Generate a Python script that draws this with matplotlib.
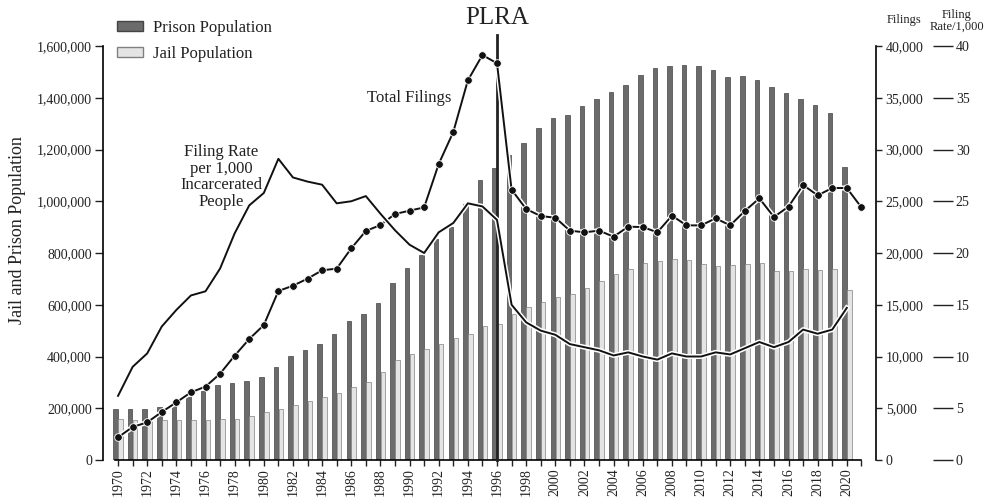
import matplotlib
matplotlib.use("Agg")
import matplotlib.pyplot as plt
import matplotlib.patheffects as pe
from matplotlib.patches import Patch
import numpy as np

plt.rcParams['font.family'] = ['Liberation Serif', 'DejaVu Serif']

# population data, 1970-2020
years = list(range(1970, 2021))
prison = [198, 198, 196, 204, 211, 243, 267, 290, 296, 304,
          320, 359, 402, 425, 448, 488, 537, 563, 607, 684,
          743, 791, 853, 902, 990, 1082, 1130, 1179, 1224, 1284,
          1320, 1332, 1369, 1396, 1423, 1449, 1489, 1514, 1524, 1525,
          1523, 1506, 1480, 1485, 1470, 1440, 1417, 1395, 1372, 1340,
          1132]
jail = [158, 155, 152, 155, 156, 156, 156, 157, 158, 171,
        185, 198, 213, 228, 242, 258, 281, 303, 340, 386,
        410, 428, 450, 473, 488, 518, 526, 564, 593, 612,
        629, 642, 665, 693, 719, 737, 761, 768, 778, 773,
        759, 749, 752, 759, 761, 732, 732, 739, 736, 739,
        657]
prison = [v * 1000 for v in prison]
jail = [v * 1000 for v in jail]

# filings, 1970-2021
filing_years = list(range(1970, 2022))
filings = [2190, 3190, 3640, 4640, 5570, 6540, 7090, 8340, 10080, 11690,
           13040, 16330, 16840, 17520, 18330, 18490, 20450, 22130, 22700, 23770,
           24090, 24410, 28600, 31690, 36680, 39130, 38330, 26120, 24250, 23570,
           23410, 22160, 22000, 22160, 21580, 22540, 22510, 22000, 23610, 22670,
           22670, 23350, 22670, 24060, 25280, 23480, 24480, 26570, 25570, 26280,
           26280, 24410]

# filing rate per 1,000 incarcerated, 1970-2020
rate = [6.2, 9.0, 10.3, 12.9, 14.5, 15.9, 16.3, 18.5, 21.9, 24.6,
        25.8, 29.1, 27.3, 26.9, 26.6, 24.8, 25.0, 25.5, 23.8, 22.2,
        20.8, 20.0, 22.0, 22.9, 24.8, 24.5, 23.2, 15.0, 13.3, 12.5,
        12.1, 11.2, 10.9, 10.6, 10.1, 10.4, 10.0, 9.7, 10.3, 10.0,
        10.0, 10.4, 10.2, 10.8, 11.4, 10.9, 11.4, 12.6, 12.2, 12.6,
        14.7]

txt = '#222222'
fig = plt.figure(figsize=(9.87, 4.98), dpi=100)
ax = fig.add_axes([0.1044, 0.0763, 0.7831, 0.8313])

x = np.array(years)
w = 0.31
ax.bar(x - 0.17, prison, width=w, color='#6b6b6b', edgecolor='#444444', linewidth=0.5, zorder=2)
ax.bar(x + 0.17, jail, width=w, color='#e4e4e4', edgecolor='#808080', linewidth=0.5, zorder=2)

ax.set_xlim(1968.97, 2022.0)
ax.set_ylim(0, 1600000)
yt = list(range(0, 1600001, 200000))
ax.set_yticks(yt)
ax.set_yticklabels(['{:,}'.format(v) for v in yt])
ax.set_xticks(list(range(1970, 2021, 2)))
ax.set_xticks(list(range(1970, 2022)), minor=True)
ax.tick_params(axis='x', which='both', length=4, width=1, colors=txt, labelsize=10,
               labelrotation=90, pad=2)
ax.tick_params(axis='y', length=6, width=1, colors=txt, labelsize=10, pad=2)
for s in ['top', 'right']:
    ax.spines[s].set_visible(False)
ax.spines['bottom'].set_bounds(1969.8, 2021)
ax.spines['left'].set_linewidth(1.2)
ax.spines['bottom'].set_linewidth(1.2)
ax.set_ylabel('Jail and Prison Population', fontsize=13, color=txt)
ax.yaxis.set_label_coords(-0.1, 0.556)

# filings axis
ax2 = ax.twinx()
ax2.set_ylim(0, 40000)
ft = list(range(0, 40001, 5000))
ax2.set_yticks(ft)
ax2.set_yticklabels(['{:,}'.format(v) for v in ft])
ax2.tick_params(axis='y', length=4, width=1, colors=txt, labelsize=10, pad=3)
for s in ['top', 'left', 'bottom']:
    ax2.spines[s].set_visible(False)
ax2.spines['right'].set_linewidth(1.2)

# rate axis
ax3 = ax.twinx()
ax3.set_ylim(0, 40)
ax3.set_yticks(list(range(0, 41, 5)))
ax3.spines['right'].set_position(('outward', 41))
for s in ['top', 'left', 'bottom', 'right']:
    ax3.spines[s].set_visible(False)
ax3.tick_params(axis='y', length=14.5, width=1, colors=txt, labelsize=10, pad=2)

stroke = [pe.Stroke(linewidth=3.6, foreground='white'), pe.Normal()]
ax3.plot(years, rate, color='#111111', lw=1.4, zorder=4, path_effects=stroke, clip_on=False)
ax2.plot(filing_years, filings, color='#111111', lw=1.4, zorder=5, path_effects=stroke,
         clip_on=False)
ax2.plot(filing_years, filings, linestyle='none', marker='o', markersize=5.5,
         markerfacecolor='#111111', markeredgecolor='white', markeredgewidth=0.6,
         zorder=6, clip_on=False)

# PLRA marker
ax.plot([1996, 1996], [0, 1642000], color='#222222', lw=2, zorder=3, clip_on=False)
ax.text(1996, 1708000, 'PLRA', ha='center', va='center', fontsize=18, color=txt)

ax.text(1990.0, 1399000, 'Total Filings', ha='center', va='center', fontsize=12, color=txt,
        zorder=7)
ax.text(1977.1, 1094000, 'Filing Rate\nper 1,000\nIncarcerated\nPeople', ha='center',
        va='center', fontsize=12, color=txt, linespacing=1.05, zorder=7)

fig.text(904 / 987, 1 - 20 / 498, 'Filings', ha='center', va='center', fontsize=9, color=txt)
fig.text(957 / 987, 1 - 21 / 498, 'Filing\nRate/1,000', ha='center', va='center', fontsize=9,
         color=txt, linespacing=0.95)

handles = [Patch(facecolor='#6b6b6b', edgecolor='#444444', label='Prison Population'),
           Patch(facecolor='#e4e4e4', edgecolor='#808080', label='Jail Population')]
fig.legend(handles=handles, loc='upper left', bbox_to_anchor=(0.103, 0.99), frameon=False,
           fontsize=12, handlelength=1.6, handleheight=0.6, labelspacing=0.6,
           handletextpad=0.6, labelcolor=txt)

fig.savefig('out.png', dpi=100)
